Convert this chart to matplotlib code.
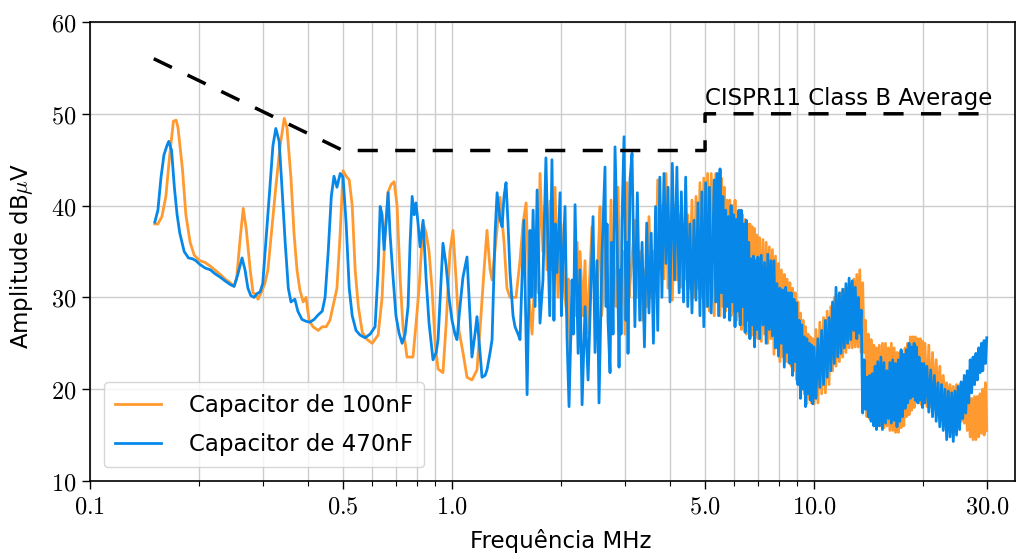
import matplotlib
matplotlib.use("Agg")
import matplotlib.pyplot as plt
from matplotlib.ticker import FixedLocator, FixedFormatter, NullFormatter, LogLocator

plt.rcParams["mathtext.fontset"] = "cm"
plt.rcParams["font.family"] = ["DejaVu Sans"]

# ---- 100 nF capacitor, 0.15 - 3.1 MHz ----
f100_low = [0.151, 0.154, 0.158, 0.162, 0.166, 0.170, 0.173, 0.175, 0.180, 0.184,
            0.189, 0.194, 0.201, 0.208, 0.215, 0.221, 0.229, 0.236, 0.244, 0.250,
            0.254, 0.260, 0.265, 0.270, 0.277, 0.282, 0.288, 0.291, 0.297, 0.304,
            0.310, 0.318, 0.326, 0.335, 0.344, 0.350, 0.359, 0.366, 0.373, 0.380,
            0.388, 0.395, 0.403, 0.413, 0.427, 0.438, 0.449, 0.460, 0.472, 0.481,
            0.491, 0.500, 0.510, 0.520, 0.530, 0.540, 0.551, 0.565, 0.583, 0.602,
            0.625, 0.641, 0.653, 0.666, 0.679, 0.692, 0.705, 0.719, 0.732, 0.751,
            0.780, 0.795, 0.811, 0.832, 0.848, 0.864, 0.881, 0.898, 0.915, 0.944,
            0.963, 0.987, 1.006, 1.026, 1.045, 1.072, 1.100, 1.135, 1.172, 1.202,
            1.226, 1.249, 1.274, 1.290, 1.323, 1.357, 1.392, 1.418, 1.446, 1.502,
            1.541, 1.571, 1.602, 1.631, 1.664, 1.696, 1.729, 1.750, 1.783, 1.806,
            1.829, 1.865, 1.895, 1.925, 1.962, 2.000, 2.039, 2.078, 2.098, 2.118,
            2.159, 2.188, 2.216, 2.238, 2.257, 2.302, 2.330, 2.361, 2.406, 2.436,
            2.483, 2.510, 2.531, 2.564, 2.588, 2.613, 2.640, 2.663, 2.715, 2.749,
            2.775, 2.802, 2.838, 2.874, 2.900, 2.929, 2.967, 3.005, 3.043, 3.083,
            3.122]
a100_low = [38.0, 38.0, 38.8, 41.0, 45.5, 49.2, 49.3, 48.5, 44.0, 39.0,
            36.0, 34.6, 34.0, 33.8, 33.4, 33.0, 32.5, 32.0, 31.6, 31.2,
            32.0, 36.5, 39.7, 37.5, 33.0, 30.5, 30.3, 29.8, 30.5, 31.5,
            33.0, 37.5, 42.0, 46.5, 49.5, 48.5, 43.0, 37.0, 33.0, 30.8,
            29.5, 30.0, 27.5, 26.8, 26.4, 26.8, 26.8, 27.5, 29.5, 31.0,
            37.0, 43.8, 43.2, 42.8, 40.0, 33.0, 29.0, 26.2, 25.4, 25.0,
            25.9, 30.0, 37.0, 41.5, 42.3, 42.6, 40.0, 32.0, 26.8, 23.5,
            23.5, 27.0, 31.0, 38.1, 37.0, 35.0, 30.8, 25.0, 22.2, 21.8,
            27.0, 35.0, 37.3, 32.0, 26.4, 24.0, 21.3, 21.0, 22.1, 28.0,
            33.0, 37.3, 33.0, 31.9, 36.3, 40.9, 36.0, 31.0, 30.0, 30.0,
            34.0, 38.1, 40.3, 30.0, 26.0, 33.0, 30.5, 43.5, 35.0, 40.0,
            33.0, 40.5, 33.0, 42.0, 30.0, 38.0, 31.0, 28.0, 32.0, 23.9,
            30.0, 28.0, 36.0, 30.0, 35.0, 28.0, 34.0, 26.1, 33.0, 37.7,
            30.0, 26.0, 34.0, 39.9, 28.0, 30.0, 38.0, 33.0, 27.0, 40.6,
            30.0, 33.0, 29.0, 42.0, 33.0, 29.0, 35.0, 26.0, 42.5, 30.0,
            33.0]

# ---- 470 nF capacitor, 0.15 - 3.1 MHz ----
f470_low = [0.151, 0.154, 0.157, 0.160, 0.163, 0.165, 0.168, 0.171, 0.174, 0.177,
            0.182, 0.187, 0.192, 0.196, 0.201, 0.208, 0.215, 0.221, 0.229, 0.236,
            0.244, 0.250, 0.256, 0.263, 0.268, 0.273, 0.278, 0.284, 0.289, 0.295,
            0.300, 0.306, 0.314, 0.320, 0.326, 0.333, 0.339, 0.346, 0.353, 0.359,
            0.368, 0.375, 0.385, 0.395, 0.405, 0.416, 0.427, 0.438, 0.446, 0.455,
            0.464, 0.472, 0.481, 0.491, 0.500, 0.510, 0.520, 0.530, 0.543, 0.557,
            0.575, 0.594, 0.613, 0.625, 0.633, 0.641, 0.649, 0.657, 0.666, 0.674,
            0.687, 0.700, 0.714, 0.728, 0.742, 0.756, 0.766, 0.776, 0.786, 0.795,
            0.806, 0.816, 0.832, 0.848, 0.864, 0.886, 0.904, 0.915, 0.933, 0.944,
            0.963, 0.981, 1.000, 1.019, 1.032, 1.052, 1.072, 1.100, 1.121, 1.135,
            1.157, 1.172, 1.195, 1.210, 1.234, 1.249, 1.274, 1.290, 1.315, 1.332,
            1.357, 1.375, 1.392, 1.410, 1.428, 1.446, 1.474, 1.493, 1.522, 1.541,
            1.561, 1.580, 1.612, 1.642, 1.655, 1.675, 1.696, 1.718, 1.750, 1.783,
            1.817, 1.840, 1.862, 1.888, 1.912, 1.930, 1.949, 1.988, 2.005, 2.026,
            2.052, 2.078, 2.105, 2.146, 2.165, 2.187, 2.230, 2.255, 2.287, 2.331,
            2.376, 2.421, 2.452, 2.483, 2.515, 2.547, 2.596, 2.646, 2.665, 2.680,
            2.697, 2.732, 2.758, 2.784, 2.820, 2.856, 2.893, 2.915, 2.930, 2.948,
            2.986, 3.024, 3.044, 3.063, 3.102, 3.142]
a470_low = [38.2, 39.5, 43.0, 45.5, 46.5, 47.0, 46.0, 42.0, 39.0, 37.0,
            35.0, 34.3, 34.2, 34.0, 33.6, 33.2, 33.0, 32.6, 32.2, 31.8,
            31.4, 31.2, 32.5, 34.3, 33.0, 31.0, 30.2, 30.0, 30.4, 30.6,
            31.5, 36.0, 42.0, 46.5, 48.4, 47.0, 42.0, 36.0, 31.0, 29.5,
            29.8, 28.5, 27.6, 27.4, 27.3, 27.6, 28.1, 28.5, 30.0, 35.0,
            41.0, 43.2, 42.0, 43.5, 43.1, 38.0, 31.0, 28.0, 26.4, 25.9,
            25.6, 26.0, 26.8, 33.0, 39.9, 39.0, 35.2, 38.0, 41.4, 37.0,
            32.3, 28.0, 26.1, 25.0, 26.0, 29.0, 36.0, 41.0, 39.0, 40.3,
            38.0, 35.5, 38.4, 32.0, 27.2, 23.2, 24.0, 25.4, 32.0, 35.9,
            33.5, 30.0, 27.5, 26.0, 25.4, 29.0, 32.2, 34.4, 28.0, 23.5,
            26.0, 27.9, 24.0, 21.3, 21.5, 22.1, 24.0, 25.4, 37.0, 41.4,
            38.5, 37.7, 41.0, 42.5, 38.0, 32.7, 28.0, 26.8, 26.0, 25.4,
            32.0, 38.4, 19.4, 37.3, 30.0, 39.5, 29.0, 41.7, 27.2, 31.9,
            45.2, 35.9, 28.0, 45.0, 27.5, 38.0, 32.7, 41.4, 28.0, 34.1,
            39.9, 25.7, 18.1, 31.9, 26.0, 40.1, 23.9, 33.0, 18.3, 29.0,
            21.0, 31.6, 38.8, 24.0, 34.0, 18.5, 34.8, 44.2, 29.0, 38.0,
            27.5, 21.8, 36.0, 26.0, 46.4, 37.3, 22.4, 33.0, 26.0, 38.4,
            47.5, 27.5, 36.0, 23.9, 42.8, 45.7]

# ---- 3.2 - 5.2 MHz, shared frequency points ----
f_mid = [3.20, 3.25, 3.30, 3.35, 3.40, 3.45, 3.50, 3.55, 3.60, 3.65,
         3.70, 3.75, 3.80, 3.85, 3.90, 3.95, 4.00, 4.06, 4.12, 4.18,
         4.24, 4.30, 4.36, 4.42, 4.48, 4.54, 4.60, 4.66, 4.72, 4.78,
         4.84, 4.90, 4.96, 5.02, 5.08, 5.14, 5.20]
a100_mid = [38.4, 30.0, 35.0, 27.5, 33.0, 29.0, 38.8, 30.0, 35.0, 31.0,
            42.8, 33.0, 40.0, 32.0, 43.5, 31.0, 38.0, 29.7, 40.0, 31.9,
            39.0, 31.1, 38.0, 32.0, 39.0, 31.0, 40.6, 30.0, 41.0, 31.0,
            42.5, 30.0, 43.0, 29.0, 43.5, 28.5, 43.5]
a470_mid = [26.8, 41.4, 27.5, 36.0, 24.6, 38.1, 28.3, 37.0, 25.0, 39.9,
            26.4, 43.1, 30.0, 43.5, 33.7, 42.0, 29.5, 44.6, 31.9, 44.2,
            30.5, 41.5, 29.5, 43.1, 29.0, 38.0, 28.3, 38.4, 29.7, 40.3,
            28.0, 41.5, 26.8, 42.5, 29.0, 42.0, 28.3]

# ---- 5.3 - 30 MHz, shared frequency points ----
f_band = [5.30, 5.35, 5.40, 5.45, 5.50, 5.55, 5.60, 5.65, 5.70, 5.75,
          5.80, 5.85, 5.90, 5.95, 6.00, 6.05, 6.10, 6.15, 6.20, 6.25,
          6.30, 6.35, 6.40, 6.45, 6.50, 6.55, 6.60, 6.65, 6.70, 6.75,
          6.80, 6.85, 6.90, 6.95, 7.00,
          7.075, 7.15, 7.225, 7.3, 7.375, 7.45, 7.525, 7.6, 7.675, 7.75,
          7.825, 7.9, 7.975, 8.05, 8.125, 8.2, 8.275, 8.35, 8.425, 8.5,
          8.575, 8.65, 8.725, 8.8, 8.875, 8.95, 9.025, 9.1, 9.175, 9.25,
          9.325, 9.4, 9.475, 9.55, 9.625, 9.7, 9.775, 9.85, 9.925, 10.0,
          10.125, 10.25, 10.375, 10.5, 10.625, 10.75, 10.875, 11.0, 11.125, 11.25,
          11.375, 11.5, 11.625, 11.75, 11.875, 12.0, 12.125, 12.25, 12.375, 12.5,
          12.625, 12.75, 12.875, 13.0, 13.125, 13.25, 13.375, 13.5, 13.625, 13.75,
          13.875, 14.0, 14.125, 14.25, 14.375, 14.5, 14.625, 14.75, 14.875, 15.0,
          15.15, 15.3, 15.45, 15.6, 15.75, 15.9, 16.05, 16.2, 16.35, 16.5,
          16.65, 16.8, 16.95, 17.1, 17.25, 17.4, 17.55, 17.7, 17.85, 18.0,
          18.15, 18.3, 18.45, 18.6, 18.75, 18.9, 19.05, 19.2, 19.35, 19.5,
          19.65, 19.8, 19.95, 20.1,
          20.25, 20.5, 20.75, 21.0, 21.25, 21.5, 21.75, 22.0, 22.25, 22.5,
          22.75, 23.0, 23.25, 23.5, 23.75, 24.0, 24.25, 24.5, 24.75, 25.0,
          25.25, 25.5, 25.75, 26.0, 26.25, 26.5, 26.75, 27.0, 27.25, 27.5,
          27.75, 28.0, 28.25, 28.5, 28.75, 29.0, 29.25, 29.5, 29.75, 30.0]
a100_band = [28.0, 43.5, 29.5, 42.5, 28.0, 43.0, 29.0, 42.0, 28.5, 40.6,
             29.5, 40.6, 28.0, 40.0, 28.5, 40.6, 27.5, 39.0, 28.0, 39.5,
             26.5, 39.0, 27.0, 38.5, 26.0, 38.0, 26.8, 38.0, 25.8, 37.7,
             26.5, 37.5, 26.0, 36.8, 25.5,
             36.5, 25.2, 36.3, 26.0, 36.0, 25.0, 35.5, 25.5, 35.2, 23.8,
             34.5, 24.5, 33.7, 23.0, 33.0, 23.5, 32.5, 23.0, 32.0, 22.9,
             31.6, 22.5, 31.0, 22.0, 30.5, 21.0, 29.5, 21.5, 28.3, 20.0,
             27.5, 19.5, 26.8, 18.4, 26.0, 19.0, 25.7, 18.5, 25.5, 18.4,
             26.5, 18.5, 27.3, 19.5, 27.8, 19.6, 28.5, 20.5, 29.0, 22.0,
             30.0, 22.5, 30.2, 23.0, 30.5, 23.5, 30.9, 24.0, 31.0, 24.5,
             31.5, 24.5, 32.0, 24.6, 32.5, 24.6, 33.0, 24.0, 31.6, 24.0,
             27.5, 17.0, 26.0, 16.8, 25.4, 16.6, 24.8, 16.5, 24.5, 16.0,
             24.8, 16.0, 25.0, 15.8, 25.0, 16.0, 24.5, 15.5, 25.0, 15.5,
             24.5, 15.3, 24.0, 15.3, 24.0, 15.8, 23.5, 16.0, 24.5, 17.0,
             25.0, 17.2, 25.7, 17.7, 25.7, 18.0, 25.7, 18.8, 25.5, 18.5,
             25.5, 18.3, 25.2, 18.5,
             25.0, 18.1, 24.8, 18.1, 24.0, 18.3, 23.2, 18.3, 22.5, 18.3,
             21.5, 18.3, 20.7, 18.0, 20.5, 18.0, 20.3, 17.5, 20.5, 17.0,
             20.5, 16.5, 19.8, 16.3, 19.5, 15.5, 19.2, 14.8, 19.0, 14.5,
             19.2, 14.5, 19.2, 14.8, 19.5, 15.2, 20.0, 15.0, 20.7, 15.5]
a470_band = [42.8, 29.5, 43.5, 28.0, 44.0, 30.5, 41.0, 27.8, 39.5, 29.0,
             38.8, 27.5, 40.0, 29.5, 39.0, 26.8, 38.5, 28.5, 39.5, 27.0,
             39.5, 29.0, 38.0, 26.2, 38.4, 27.5, 36.0, 25.5, 34.2, 27.0,
             34.5, 24.6, 34.0, 26.5, 34.4,
             25.5, 34.6, 27.0, 33.8, 25.0, 34.7, 26.5, 34.0, 25.8, 34.0,
             24.5, 31.5, 23.6, 31.0, 25.0, 30.8, 22.4, 31.1, 24.0, 30.5,
             22.8, 30.5, 21.5, 29.8, 23.0, 29.4, 20.5, 27.5, 19.0, 27.0,
             20.0, 25.7, 18.1, 25.5, 19.5, 25.0, 18.8, 24.8, 18.4, 24.6,
             19.0, 25.5, 20.2, 26.4, 20.5, 27.5, 21.3, 27.8, 22.0, 29.5,
             22.8, 31.1, 23.5, 30.5, 23.9, 30.9, 24.5, 31.5, 25.0, 32.1,
             25.4, 31.8, 26.4, 31.1, 25.5, 30.0, 26.1, 28.6, 17.4, 23.2,
             17.8, 21.3, 17.0, 21.5, 16.5, 21.7, 16.0, 22.5, 15.6, 23.0,
             16.0, 23.5, 15.6, 22.9, 16.3, 22.0, 16.8, 22.9, 16.3, 23.2,
             16.6, 22.8, 15.9, 23.2, 16.5, 24.3, 17.0, 23.8, 17.9, 24.3,
             18.5, 25.0, 19.0, 24.6, 19.2, 25.0, 18.8, 24.6, 18.5, 23.5,
             18.8, 22.8, 18.0, 22.8,
             18.5, 22.5, 17.5, 22.1, 17.0, 21.5, 16.5, 20.7, 15.9, 20.5,
             15.5, 20.0, 14.5, 19.8, 14.8, 19.6, 14.3, 19.8, 15.0, 20.3,
             15.6, 20.8, 16.8, 21.5, 17.4, 22.0, 18.5, 23.2, 19.6, 23.5,
             20.5, 23.9, 21.0, 24.5, 21.8, 25.0, 22.0, 25.3, 22.8, 25.6]

# ---- CISPR 11 Class B average limit ----
lim_freq = [0.15, 0.5, 5.0, 5.0, 30.0]
lim_amp = [56.0, 46.0, 46.0, 50.0, 50.0]

x_ticks = [0.1, 0.5, 1.0, 5.0, 10.0, 30.0]
x_tick_labels = ["0.1", "0.5", "1.0", "5.0", "10.0", "30.0"]
y_ticks = [10, 20, 30, 40, 50, 60]

series_labels = ["Capacitor de 100nF", "Capacitor de 470nF"]
limit_label = "CISPR11 Class B Average"

c_orange = "#ff9a30"
c_blue = "#0788e8"

fig = plt.figure(figsize=(10.16, 5.54), dpi=100)
ax = fig.add_axes([0.0886, 0.1318, 0.9104, 0.8285])

ax.plot(f100_low + f_mid + f_band, a100_low + a100_mid + a100_band,
        color=c_orange, lw=2.0, label=series_labels[0])
ax.plot(f470_low + f_mid + f_band, a470_low + a470_mid + a470_band,
        color=c_blue, lw=2.0, label=series_labels[1])
ax.plot(lim_freq, lim_amp, color="black", lw=2.5, dashes=(5.8, 5.0))
ax.text(5.0, 51.0, limit_label, fontsize=16.5, va="baseline", ha="left")

ax.set_xscale("log")
ax.set_xlim(0.1, 35.9)
ax.set_ylim(10, 60)

ax.xaxis.set_major_locator(FixedLocator(x_ticks))
ax.xaxis.set_major_formatter(FixedFormatter(["$" + t + "$" for t in x_tick_labels]))
ax.xaxis.set_minor_locator(LogLocator(base=10, subs=(2, 3, 4, 5, 6, 7, 8, 9)))
ax.xaxis.set_minor_formatter(NullFormatter())
ax.yaxis.set_major_locator(FixedLocator(y_ticks))
ax.yaxis.set_major_formatter(FixedFormatter(["$%d$" % v for v in y_ticks]))

ax.tick_params(axis="both", which="major", labelsize=17.5, length=6, width=1.0)
ax.tick_params(axis="x", which="minor", length=3.5, width=0.8)
ax.grid(which="major", color="#cccccc", lw=1.0)
ax.grid(which="minor", axis="x", color="#cccccc", lw=1.0)
ax.set_axisbelow(True)
for s in ax.spines.values():
    s.set_linewidth(1.2)

ax.set_xlabel("Frequência MHz", fontsize=16.5)
ax.set_ylabel("Amplitude dB$\\mu$V", fontsize=16.5)
ax.xaxis.set_label_coords(0.509, -0.104)
ax.yaxis.set_label_coords(-0.06, 0.49)

ax.legend(loc="lower left", fontsize=16.5, borderaxespad=0.6, handlelength=2.0,
          handletextpad=1.2, borderpad=0.5, labelspacing=0.7, fancybox=True,
          framealpha=0.8, edgecolor="#cccccc")

fig.savefig("out.png", dpi=100)
